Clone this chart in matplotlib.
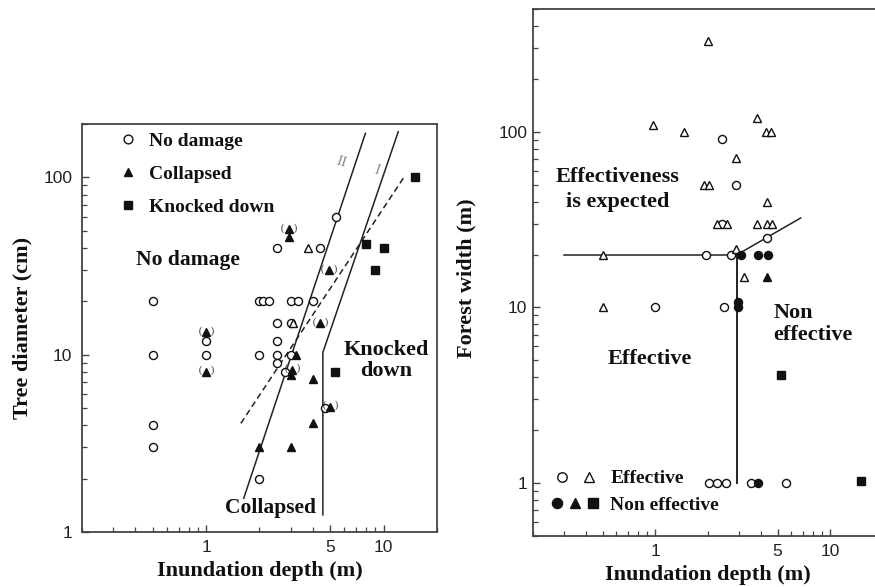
import matplotlib
matplotlib.use('Agg')
import numpy as np
import matplotlib.pyplot as plt
from matplotlib.ticker import FixedLocator, FixedFormatter, LogLocator, NullFormatter
from matplotlib.lines import Line2D
from matplotlib.legend_handler import HandlerTuple

plt.rcParams['font.family'] = ['Liberation Serif', 'DejaVu Serif']
SERIF = 'Liberation Serif'
SANS = 'Liberation Sans'

# ---------------- Left panel data (inundation depth m, tree diameter cm)
nodmg_x = [0.5, 0.5, 0.5, 0.5, 1.0, 1.0, 2.0, 2.1, 2.27, 2.0, 2.0,
           2.5, 2.5, 2.5, 2.5, 2.5, 2.8, 3.0, 3.28, 3.0, 3.0, 4.0, 4.4, 5.4, 4.7]
nodmg_y = [20, 10, 4, 3, 12, 10, 20, 20, 20, 10, 2,
           40, 15, 12, 10, 9, 8, 20, 20, 15, 10, 20, 40, 60, 5]
col_x = [1.0, 1.0, 2.0, 3.0, 2.93, 2.95, 4.9, 4.4, 3.2, 3.05, 3.0, 4.0, 4.0, 5.0]
col_y = [13.4, 8.0, 3.0, 3.0, 51.0, 46.0, 30.0, 15.0, 10.0, 8.2, 7.7, 7.3, 4.1, 5.1]
col_paren = [1, 1, 0, 0, 1, 0, 1, 1, 0, 1, 0, 0, 0, 1]
opentri_x = [3.75, 3.08]
opentri_y = [40, 15]
knock_x = [8.0, 10.0, 8.9, 15.0, 5.3]
knock_y = [42, 40, 30, 100, 8]

lineII_x = [1.63, 7.9]
lineII_y = [1.55, 177]
lineI_x = [4.55, 4.55, 12.1]
lineI_y = [1.25, 10.3, 181]
dash_x = [1.57, 13.1]
dash_y = [4.1, 101]

left_legend = ['No damage', 'Collapsed', 'Knocked down']
x_ticks = [1, 5, 10]
x_ticklabels = ['1', '5', '10']
y_ticks = [1, 10, 100]
y_ticklabels = ['1', '10', '100']

# ---------------- Right panel data (inundation depth m, forest width m)
eff_c_x = [2.39, 2.9, 2.4, 4.33, 1.95, 2.72, 1.0, 2.47, 2.02, 2.26, 2.52, 3.5, 5.56]
eff_c_y = [91, 50, 30, 25, 20, 20, 10, 10, 1, 1, 1, 1, 1]
eff_t_x = [2.0, 0.97, 1.45, 3.8, 4.27, 4.6, 2.88, 1.9, 2.02, 4.33, 2.24, 2.56,
           3.83, 4.33, 4.66, 0.5, 2.9, 3.2, 0.5]
eff_t_y = [330, 110, 100, 120, 100, 100, 71, 50, 50, 40, 30, 30,
           30, 30, 30, 20, 21.5, 15, 10]
non_c_x = [3.1, 3.88, 4.38, 2.97, 2.97, 3.86]
non_c_y = [20, 20, 20, 10.7, 10, 1.0]
non_t_x = [4.36]
non_t_y = [15]
non_s_x = [5.2, 14.9]
non_s_y = [4.1, 1.03]

bnd_h_x = [0.3, 2.94]
bnd_h_y = [20, 20]
bnd_s_x = [2.94, 6.77]
bnd_s_y = [20, 32.3]
bnd_v_x = [2.94, 2.94]
bnd_v_y = [20, 1.0]

right_legend = ['Effective', 'Non effective']

# ---------------- Figure
fig = plt.figure(figsize=(8.75, 5.87), dpi=100)
ax1 = fig.add_axes([82/875, 55/587, 355/875, 408/587])
ax2 = fig.add_axes([533/875, 51/587, 350/875, 527/587])

SPC = '#444444'


def style(ax, xlim, ylim, ypad):
    ax.set_xscale('log')
    ax.set_yscale('log')
    ax.set_xlim(*xlim)
    ax.set_ylim(*ylim)
    ax.xaxis.set_major_locator(FixedLocator(x_ticks))
    ax.xaxis.set_major_formatter(FixedFormatter(x_ticklabels))
    ax.xaxis.set_minor_locator(LogLocator(base=10, subs=np.arange(2, 10)))
    ax.xaxis.set_minor_formatter(NullFormatter())
    ax.yaxis.set_major_locator(FixedLocator(y_ticks))
    ax.yaxis.set_major_formatter(FixedFormatter(y_ticklabels))
    ax.yaxis.set_minor_locator(LogLocator(base=10, subs=np.arange(2, 10)))
    ax.yaxis.set_minor_formatter(NullFormatter())
    ax.tick_params(which='both', direction='in', top=False, right=False,
                   color=SPC, labelfontfamily=SANS, labelsize=12.5,
                   labelcolor='#222222')
    ax.tick_params(which='major', length=5, width=1)
    ax.tick_params(which='minor', length=3.5, width=0.9)
    ax.tick_params(axis='x', pad=6)
    ax.tick_params(axis='y', pad=ypad)
    for s in ax.spines.values():
        s.set_color(SPC)
        s.set_linewidth(1.3)


style(ax1, (0.2, 20), (1, 200), 7)
style(ax2, (0.2, 20), (0.5, 500), 4)
ax2.spines['right'].set_visible(False)

TXT = dict(family=SERIF, weight='bold', color='#111111')
ms = 5.8
open_kw = dict(ls='none', mfc='white', mec='#111111', mew=1.0)
fill_kw = dict(ls='none', mfc='#111111', mec='#111111', mew=1.0)

# ---- Left panel
ax1.plot(lineII_x, lineII_y, color='#222222', lw=1.1)
ax1.plot(lineI_x, lineI_y, color='#222222', lw=1.1)
ax1.plot(dash_x, dash_y, color='#222222', lw=1.1, ls=(0, (4, 2.5)))
ax1.plot(nodmg_x, nodmg_y, marker='o', ms=ms, **open_kw)
ax1.plot(opentri_x, opentri_y, marker='^', ms=ms, **open_kw)
ax1.plot(col_x, col_y, marker='^', ms=ms, **fill_kw)
ax1.plot(knock_x, knock_y, marker='s', ms=ms - 0.5, **fill_kw)
for x, y, p in zip(col_x, col_y, col_paren):
    if p:
        ax1.annotate('(', (x, y), xytext=(-4.5, 1), textcoords='offset points',
                     ha='center', va='center', fontsize=7, color='#222222')
        ax1.annotate(')', (x, y), xytext=(4.5, 1), textcoords='offset points',
                     ha='center', va='center', fontsize=7, color='#222222')

ax1.text(5.8, 122, 'II', rotation=-18, ha='center', va='center', fontsize=11,
         color='#8a8a8a', family=SERIF)
ax1.text(9.2, 110, 'I', rotation=-18, ha='center', va='center', fontsize=11,
         color='#8a8a8a', family=SERIF)

ax1.text(0.404, 34, 'No damage', ha='left', va='center', fontsize=15.5, **TXT)
ax1.text(10.4, 9.3, 'Knocked\ndown', ha='center', va='center', fontsize=16,
         linespacing=1.05, **TXT)
ax1.text(2.32, 1.36, 'Collapsed', ha='center', va='center', fontsize=15.5, **TXT)

h1 = [Line2D([], [], marker='o', ms=ms + 0.5, **open_kw),
      Line2D([], [], marker='^', ms=ms + 0.5, **fill_kw),
      Line2D([], [], marker='s', ms=ms, **fill_kw)]
ax1.legend(h1, left_legend, loc='upper left', bbox_to_anchor=(0.075, 1.008),
           frameon=False, prop=dict(family=SERIF, weight='bold', size=14),
           handlelength=0.8, handletextpad=0.7, labelspacing=0.78,
           borderaxespad=0.2, labelcolor='#111111')

ax1.set_xlabel('Inundation depth (m)', fontsize=16, labelpad=4, **TXT)
fig.text(22/875, 1 - 328/587, 'Tree diameter (cm)', rotation=90, ha='center',
         va='center', fontsize=16, **TXT)

# ---- Right panel
ax2.plot(bnd_h_x, bnd_h_y, color='#222222', lw=1.1)
ax2.plot(bnd_s_x, bnd_s_y, color='#222222', lw=1.1)
ax2.plot(bnd_v_x, bnd_v_y, color='#222222', lw=1.4)
ax2.plot(eff_c_x, eff_c_y, marker='o', ms=ms, **open_kw)
ax2.plot(eff_t_x, eff_t_y, marker='^', ms=ms, **open_kw)
ax2.plot(non_c_x, non_c_y, marker='o', ms=ms, **fill_kw)
ax2.plot(non_t_x, non_t_y, marker='^', ms=ms, **fill_kw)
ax2.plot(non_s_x, non_s_y, marker='s', ms=ms - 0.5, **fill_kw)

ax2.text(0.607, 47, 'Effectiveness\nis expected', ha='center', va='center',
         fontsize=16, linespacing=1.35, **TXT)
ax2.text(0.936, 5.1, 'Effective', ha='center', va='center', fontsize=16, **TXT)
ax2.text(4.75, 8.05, 'Non\neffective', ha='left', va='center', fontsize=16,
         linespacing=1.15, **TXT)

h2 = [(Line2D([], [], marker='o', ms=ms + 1, **open_kw),
       Line2D([], [], marker='^', ms=ms + 1, **open_kw)),
      (Line2D([], [], marker='o', ms=ms + 1.5, **fill_kw),
       Line2D([], [], marker='^', ms=ms + 1.5, **fill_kw),
       Line2D([], [], marker='s', ms=ms + 1, **fill_kw))]
ax2.legend(h2, right_legend, loc='lower left', bbox_to_anchor=(0.015, 0.02),
           frameon=False, prop=dict(family=SERIF, weight='bold', size=14),
           handlelength=2.6, handletextpad=0.5, labelspacing=0.45,
           borderaxespad=0.2, labelcolor='#111111',
           handler_map={tuple: HandlerTuple(ndivide=None, pad=0.2)})

ax2.set_xlabel('Inundation depth (m)', fontsize=16, labelpad=4, **TXT)
fig.text(466/875, 1 - 278/587, 'Forest width (m)', rotation=90, ha='center',
         va='center', fontsize=16, **TXT)

fig.savefig('out.png', dpi=100, facecolor='white')
